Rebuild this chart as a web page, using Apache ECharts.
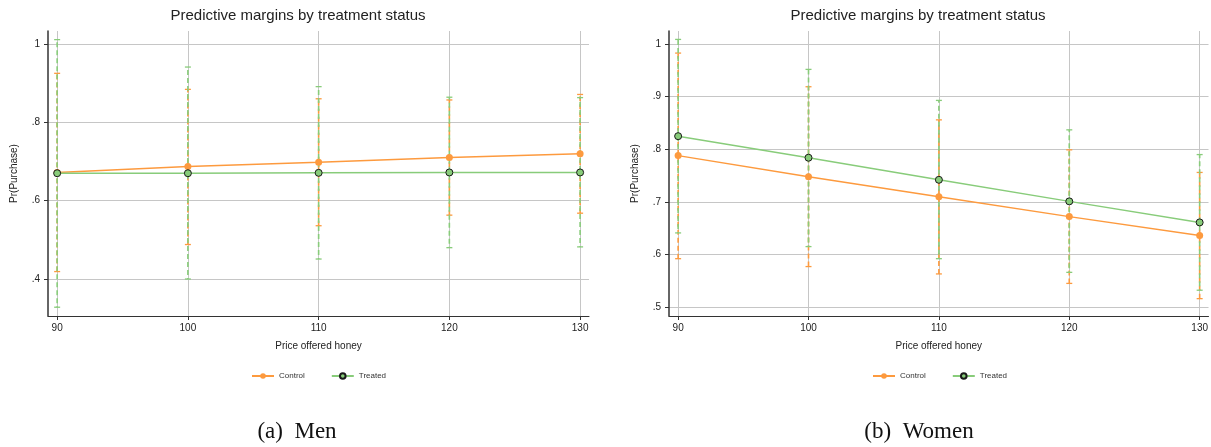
<!DOCTYPE html>
<html>
<head>
<meta charset="UTF-8">
<title>Predictive margins</title>
<script src="https://cdn.jsdelivr.net/npm/echarts@6.0.0/dist/echarts.min.js"></script>
<style>
  body { margin: 0; padding: 0; background: #fff; overflow: hidden; }
  #chart { width: 1211px; height: 447px; }
</style>
</head>
<body>
<div id="chart"></div>
<script>
// price levels on the x axis
var prices = [90, 100, 110, 120, 130];

// men (panel a)
var menControl   = [0.672, 0.687, 0.698, 0.710, 0.720];
var menControlLo = [0.419, 0.488, 0.536, 0.563, 0.568];
var menControlHi = [0.925, 0.884, 0.860, 0.857, 0.871];
var menTreated   = [0.670, 0.670, 0.671, 0.672, 0.672];
var menTreatedLo = [0.328, 0.400, 0.451, 0.480, 0.482];
var menTreatedHi = [1.011, 0.941, 0.891, 0.864, 0.863];

// women (panel b)
var womenControl   = [0.788, 0.748, 0.710, 0.672, 0.636];
var womenControlLo = [0.592, 0.577, 0.563, 0.545, 0.516];
var womenControlHi = [0.983, 0.919, 0.856, 0.799, 0.756];
var womenTreated   = [0.825, 0.784, 0.742, 0.701, 0.661];
var womenTreatedLo = [0.641, 0.615, 0.592, 0.566, 0.532];
var womenTreatedHi = [1.009, 0.952, 0.893, 0.837, 0.790];

var menTicks = [0.4, 0.6, 0.8, 1];
var womenTicks = [0.5, 0.6, 0.7, 0.8, 0.9, 1];

var orange = '#fd9a3e';
var green = '#88cc7a';
var gridColor = '#c6c6c6';
var font = '"Liberation Sans", Arial, sans-serif';

function pts(ys) {
    return prices.map(function (p, i) { return [p, ys[i]]; });
}
function bars(lo, hi) {
    return prices.map(function (p, i) { return [p, lo[i], hi[i]]; });
}
function stataLabel(v) {
    return String(+v.toFixed(2)).replace(/^0\./, '.');
}

// dashed vertical bar with small caps; offset lets the two groups interleave
function errRender(offset) {
    return function (params, api) {
        var x = api.value(0);
        var lo = api.coord([x, api.value(1)]);
        var hi = api.coord([x, api.value(2)]);
        var c = api.visual('color');
        return {
            type: 'group',
            children: [
                { type: 'line', shape: { x1: lo[0], y1: lo[1], x2: hi[0], y2: hi[1] },
                  style: { stroke: c, lineWidth: 1.6, lineDash: [5, 3], lineDashOffset: offset } },
                { type: 'line', shape: { x1: lo[0] - 3, y1: lo[1], x2: lo[0] + 3, y2: lo[1] },
                  style: { stroke: c, lineWidth: 1.3 } },
                { type: 'line', shape: { x1: hi[0] - 3, y1: hi[1], x2: hi[0] + 3, y2: hi[1] },
                  style: { stroke: c, lineWidth: 1.3 } }
            ]
        };
    };
}

function xAxisFor(idx) {
    return {
        type: 'value', gridIndex: idx, min: 89.3, max: 130.68,
        name: 'Price offered honey', nameLocation: 'middle', nameGap: 25,
        nameTextStyle: { fontFamily: font, fontSize: 10, color: '#222' },
        axisLine: { show: true, lineStyle: { color: '#333', width: 1 } },
        axisTick: { show: true, length: 4, customValues: prices, lineStyle: { color: '#333' } },
        axisLabel: { customValues: prices, margin: 7, fontFamily: font, fontSize: 10, color: '#222' },
        splitLine: { show: false }
    };
}
function yAxisFor(idx, min, max, ticks) {
    return {
        type: 'value', gridIndex: idx, min: min, max: max,
        name: 'Pr(Purchase)', nameLocation: 'middle', nameGap: 29, nameRotate: 90,
        nameTextStyle: { fontFamily: font, fontSize: 10, color: '#222' },
        axisLine: { show: true, lineStyle: { color: '#333', width: 1.5 } },
        axisTick: { show: true, length: 4, customValues: ticks, lineStyle: { color: '#333' } },
        axisLabel: { customValues: ticks, margin: 8, fontFamily: font, fontSize: 10, color: '#222',
                     formatter: stataLabel },
        splitLine: { show: false }
    };
}

// grid lines through the tick values, kept under everything else
function gridLines(idx, ticks) {
    var d = prices.map(function (p) { return { xAxis: p }; })
        .concat(ticks.map(function (t) { return { yAxis: t }; }));
    return {
        type: 'line', xAxisIndex: idx, yAxisIndex: idx, data: [], z: 0, silent: true,
        markLine: { z: 0, silent: true, symbol: ['none', 'none'], label: { show: false },
                    lineStyle: { color: gridColor, width: 1, type: 'solid' },
                    emphasis: { disabled: true }, data: d }
    };
}

function panel(idx, ctl, ctlLo, ctlHi, trt, trtLo, trtHi) {
    return [
        { type: 'custom', name: 'Control CI', xAxisIndex: idx, yAxisIndex: idx, z: 2,
          itemStyle: { color: orange }, renderItem: errRender(0),
          encode: { x: 0, y: [1, 2] }, data: bars(ctlLo, ctlHi) },
        { type: 'custom', name: 'Treated CI', xAxisIndex: idx, yAxisIndex: idx, z: 2,
          itemStyle: { color: green }, renderItem: errRender(4),
          encode: { x: 0, y: [1, 2] }, data: bars(trtLo, trtHi) },
        { type: 'line', name: 'Control', xAxisIndex: idx, yAxisIndex: idx, z: 3,
          symbol: 'circle', symbolSize: 7, showAllSymbol: true,
          lineStyle: { color: orange, width: 1.5 }, itemStyle: { color: orange },
          data: pts(ctl) },
        { type: 'line', name: 'Treated', xAxisIndex: idx, yAxisIndex: idx, z: 4,
          symbol: 'circle', symbolSize: 7, showAllSymbol: true,
          lineStyle: { color: green, width: 1.5 },
          itemStyle: { color: green, borderColor: '#1a1a1a', borderWidth: 1 },
          data: pts(trt) }
    ];
}

var chart = echarts.init(document.getElementById('chart'));
var titleStyle = { fontFamily: font, fontSize: 15, fontWeight: 'normal', color: '#222' };
var capStyle = { fontFamily: '"Liberation Serif", "DejaVu Serif", serif', fontSize: 23, fontWeight: 'normal', color: '#111' };
var legendBase = {
    data: ['Control', 'Treated'], top: 367, itemWidth: 22, itemHeight: 7, itemGap: 26,
    textStyle: { fontFamily: font, fontSize: 8, color: '#333' }, selectedMode: false
};

chart.setOption({
    animation: false,
    backgroundColor: '#fff',
    title: [
        { text: 'Predictive margins by treatment status', left: 298, top: 8, padding: 0,
          textAlign: 'center', textStyle: titleStyle },
        { text: 'Predictive margins by treatment status', left: 918, top: 8, padding: 0,
          textAlign: 'center', textStyle: titleStyle },
        { text: '(a)  Men', left: 297, top: 420, padding: 0, textAlign: 'center', textStyle: capStyle },
        { text: '(b)  Women', left: 919, top: 420, padding: 0, textAlign: 'center', textStyle: capStyle }
    ],
    legend: [
        Object.assign({ left: 246 }, legendBase),
        Object.assign({ left: 867 }, legendBase)
    ],
    grid: [
        { left: 48, top: 31, width: 541, height: 285 },
        { left: 669, top: 31, width: 541, height: 285 }
    ],
    xAxis: [xAxisFor(0), xAxisFor(1)],
    yAxis: [yAxisFor(0, 0.3056, 1.033, menTicks), yAxisFor(1, 0.483, 1.025, womenTicks)],
    series: [gridLines(0, menTicks), gridLines(1, womenTicks)]
        .concat(panel(0, menControl, menControlLo, menControlHi, menTreated, menTreatedLo, menTreatedHi))
        .concat(panel(1, womenControl, womenControlLo, womenControlHi, womenTreated, womenTreatedLo, womenTreatedHi))
});
</script>
</body>
</html>
